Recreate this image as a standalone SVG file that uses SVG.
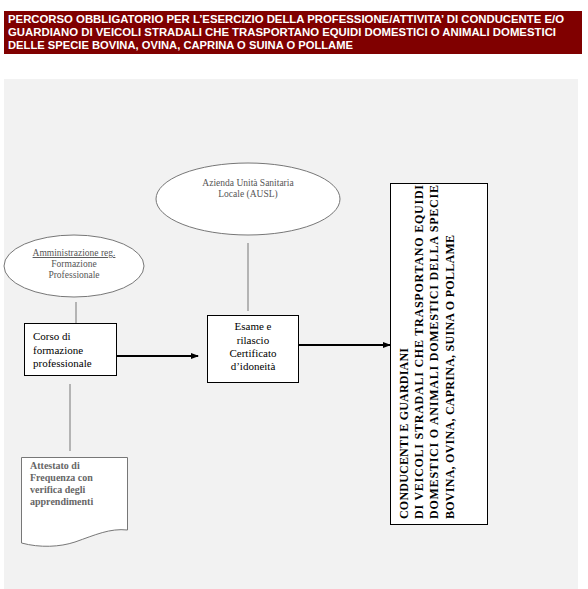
<svg xmlns="http://www.w3.org/2000/svg" width="588" height="589" viewBox="0 0 588 589">
<style>
.hdr{font-family:"Liberation Sans",Arial,sans-serif;font-weight:bold;font-size:10px;fill:#fff}
.ell{fill:#fff;stroke:#777;stroke-width:1}
.box{fill:#fff;stroke:#000;stroke-width:1}
.sm{font-family:"Liberation Serif","Times New Roman",serif;font-size:9.5px;font-weight:normal;fill:#555}
.bx{font-family:"Liberation Serif","Times New Roman",serif;font-size:11px;font-weight:normal;fill:#000}
.big{font-family:"Liberation Serif","Times New Roman",serif;font-size:12px;font-weight:bold;fill:#000}
.doc{font-family:"Liberation Serif","Times New Roman",serif;font-size:10px;font-weight:bold;fill:#666}
.ln{stroke:#777;stroke-width:1;fill:none}
.ar{stroke:#000;stroke-width:2;fill:none}
</style>
<defs>
<marker id="ah" markerWidth="8" markerHeight="8" refX="7" refY="4" orient="auto" markerUnits="userSpaceOnUse">
<path d="M0,1 L8,4 L0,7 Z" fill="#000"/>
</marker>
</defs>
<rect width="588" height="589" fill="#fff"/>
<g id="header">
<rect x="4" y="11" width="578" height="43" fill="#800000"/>
<text class="hdr" x="8" y="23" textLength="556" lengthAdjust="spacingAndGlyphs">PERCORSO OBBLIGATORIO PER L’ESERCIZIO DELLA PROFESSIONE/ATTIVITA’ DI CONDUCENTE E/O</text>
<text class="hdr" x="8" y="36" textLength="548" lengthAdjust="spacingAndGlyphs">GUARDIANO DI VEICOLI STRADALI CHE TRASPORTANO EQUIDI DOMESTICI O ANIMALI DOMESTICI</text>
<text class="hdr" x="8" y="49" textLength="345" lengthAdjust="spacingAndGlyphs">DELLE SPECIE BOVINA, OVINA, CAPRINA O SUINA O POLLAME</text>
</g>
<rect x="4" y="79" width="574" height="510" fill="#f2f2f2"/>
<g id="connectors">
<line class="ln" x1="248" y1="243" x2="248" y2="311"/>
<line class="ln" x1="76" y1="302" x2="76" y2="323"/>
<line class="ln" x1="70" y1="384" x2="70" y2="451"/>
<line class="ar" x1="116" y1="356" x2="198" y2="356" marker-end="url(#ah)"/>
<line class="ar" x1="298" y1="345" x2="390" y2="345" marker-end="url(#ah)"/>
</g>
<g id="ausl">
<ellipse class="ell" cx="248" cy="199" rx="92" ry="36"/>
<text class="sm" x="248" y="186" text-anchor="middle" font-size="10">Azienda Unità Sanitaria</text>
<text class="sm" x="248" y="197" text-anchor="middle" font-size="10">Locale (AUSL)</text>
</g>
<g id="amministrazione">
<ellipse class="ell" cx="74" cy="266" rx="70" ry="31"/>
<text class="sm" x="74" y="256" text-anchor="middle" text-decoration="underline">Amministrazione reg.</text>
<text class="sm" x="74" y="267" text-anchor="middle">Formazione</text>
<text class="sm" x="74" y="278" text-anchor="middle">Professionale</text>
</g>
<g id="corso">
<rect class="box" x="24.5" y="323.5" width="92" height="52"/>
<text class="bx" x="33" y="340">Corso di</text>
<text class="bx" x="33" y="354">formazione</text>
<text class="bx" x="33" y="367">professionale</text>
</g>
<g id="esame">
<rect class="box" x="207.5" y="315.5" width="91" height="67"/>
<text class="bx" x="253" y="330" text-anchor="middle">Esame e</text>
<text class="bx" x="253" y="344" text-anchor="middle">rilascio</text>
<text class="bx" x="253" y="357" text-anchor="middle">Certificato</text>
<text class="bx" x="253" y="370" text-anchor="middle">d’idoneità</text>
</g>
<g id="conducenti">
<rect class="box" x="390.5" y="183.5" width="97" height="341"/>
<text class="big" transform="translate(408,519) rotate(-90)" textLength="171" lengthAdjust="spacing">CONDUCENTI E GUARDIANI</text>
<text class="big" transform="translate(423,519) rotate(-90)" textLength="334" lengthAdjust="spacing">DI VEICOLI STRADALI CHE TRASPORTANO EQUIDI</text>
<text class="big" transform="translate(438,519) rotate(-90)" textLength="334" lengthAdjust="spacing">DOMESTICI O ANIMALI DOMESTICI DELLA SPECIE</text>
<text class="big" transform="translate(454,519) rotate(-90)" textLength="284" lengthAdjust="spacing">BOVINA, OVINA, CAPRINA, SUINA O POLLAME</text>
</g>
<g id="attestato">
<path d="M21.5,457.5 H127.5 V530 C110,528 95,535 75,542 C60,547 40,548 21.5,543 Z" fill="#fff" stroke="#777" stroke-width="1"/>
<text class="doc" x="30" y="469">Attestato di</text>
<text class="doc" x="30" y="481">Frequenza con</text>
<text class="doc" x="30" y="493">verifica degli</text>
<text class="doc" x="30" y="505">apprendimenti</text>
</g>
</svg>
